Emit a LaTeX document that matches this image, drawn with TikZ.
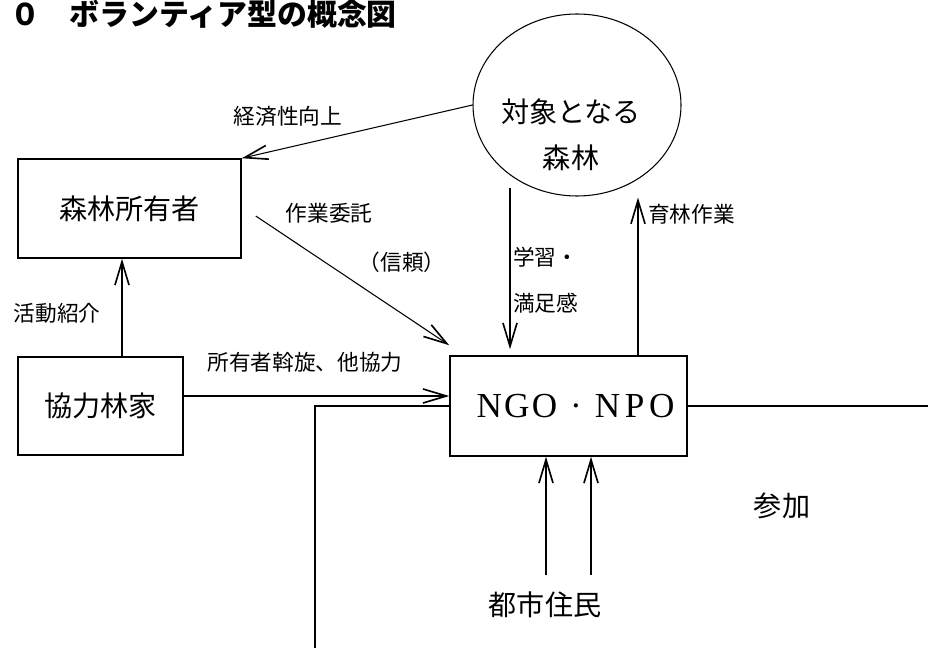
\documentclass[tikz,border=0pt]{standalone}
\usepackage{fontspec}
\usepackage{tikz}
\setmainfont{Noto Sans CJK JP}
\newfontfamily\latinserif{Liberation Serif}
\usetikzlibrary{arrows.meta,positioning,shapes.geometric}

\begin{document}
\begin{tikzpicture}[x=0.03cm,y=-0.03cm,
    box/.style={draw,line width=1.3pt,inner sep=0pt,font=\fontsize{24}{28}\selectfont},
    lbl/.style={inner sep=0pt,font=\fontsize{18.5}{22}\selectfont},
    arr/.style={-{Straight Barb[length=20pt,width=12pt,line width=1.4pt]},line width=0.9pt}]
    \useasboundingbox (0,0) rectangle (928,648);
    \node[anchor=west,inner sep=0pt,font=\fontsize{25.5}{30}\selectfont\bfseries] (title) at (10,14) {０　ボランティア型の概念図};
    \node[draw,ellipse,line width=0.9pt,minimum width=6.24cm,minimum height=5.46cm] (forest) at (577,105) {};
    \node[align=center,inner sep=0pt,font=\fontsize{24}{28}\selectfont] (forestlbl) at (571,135) {対象となる\\[11pt]森林};
    \node[box,minimum width=6.69cm,minimum height=2.97cm] (owner) at (129.5,208.5) {森林所有者};
    \node[box,minimum width=4.95cm,minimum height=2.94cm] (farm) at (100.5,406) {協力林家};
    \node[box,minimum width=7.11cm,minimum height=3cm] (ngo) at (568.5,406) {\latinserif\fontsize{30}{32}\selectfont\kern12pt N\kern2pt G\kern2pt O\kern11pt\textperiodcentered\kern11pt N\kern4pt P\kern4pt O};
    \node[inner sep=0pt,font=\fontsize{24}{28}\selectfont] (citizens) at (545,605) {都市住民};
    \node[inner sep=0pt,font=\fontsize{24}{28}\selectfont] (join) at (782,506) {参加};
    \node[lbl] (ecolbl) at (288,116) {経済性向上};
    \node[lbl] (worklbl) at (329,213) {作業委託};
    \node[lbl] (trustlbl) at (402,262) {（信頼）};
    \node[lbl] (introlbl) at (57,313) {活動紹介};
    \node[lbl] (mediatelbl) at (305,362) {所有者斡旋、他協力};
    \node[lbl,anchor=west,align=left] (learnlbl) at (513,280) {学習・\\[17pt]満足感};
    \node[lbl,anchor=west] (growlbl) at (648,214) {育林作業};
    \coordinate (c1) at (546,575);
    \coordinate (c2) at (591,575);
    \coordinate (loopS) at (315,648);
    \coordinate (joinE) at (928,406);
    \draw[arr] (forest.west) -- (owner.north east);
    \draw[arr] ([shift={(14,7.5)}]owner.east) -- ([shift={(0,-10)}]ngo.north west);
    \draw[arr] ([shift={(21.5,0)}]farm.north) -- ([shift={(21.5,0)}]farm.north |- owner.south);
    \draw[arr] ([shift={(0,-10)}]farm.east) -- ([shift={(0,-10)}]ngo.west);
    \draw[line width=0.9pt] (loopS) |- (ngo.west);
    \draw[line width=0.9pt] (ngo.east) -- (joinE);
    \draw[arr] ([shift={(-67,-9)}]forest.south) -- ([shift={(-58.5,-6)}]ngo.north);
    \draw[arr] ([shift={(69.5,0)}]ngo.north) -- ([shift={(61,1)}]forest.south);
    \draw[arr] (c1) -- (c1 |- ngo.south);
    \draw[arr] (c2) -- (c2 |- ngo.south);
\end{tikzpicture}
\end{document}
